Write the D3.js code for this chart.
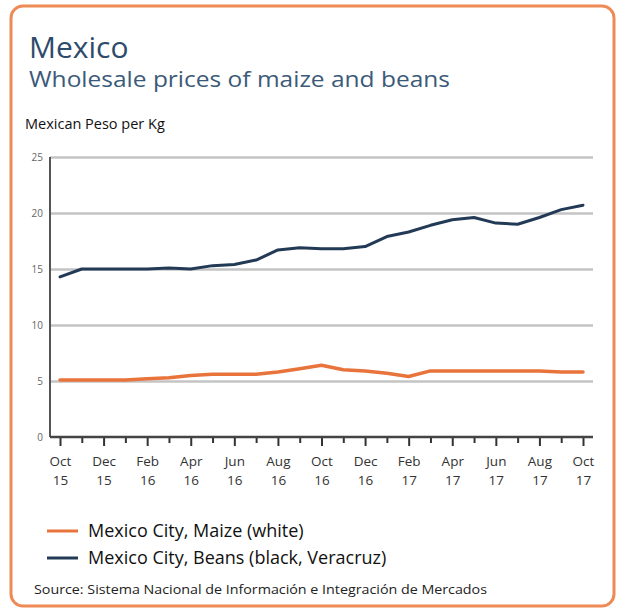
<!DOCTYPE html>
<html>
<head>
<meta charset="utf-8">
<script src="https://cdn.jsdelivr.net/npm/d3@7"></script>
<style>
  body { margin: 0; background: #fff; }
  text { font-family: "Open Sans", "Noto Sans", sans-serif; }
</style>
</head>
<body>
<div class="chart"></div>
<script>
// monthly observations, Oct 2015 - Oct 2017
var months = ["Oct 15","Nov 15","Dec 15","Jan 16","Feb 16","Mar 16","Apr 16","May 16","Jun 16",
  "Jul 16","Aug 16","Sep 16","Oct 16","Nov 16","Dec 16","Jan 17","Feb 17","Mar 17","Apr 17",
  "May 17","Jun 17","Jul 17","Aug 17","Sep 17","Oct 17"];

var maize = [5.1, 5.1, 5.1, 5.1, 5.2, 5.3, 5.5, 5.6, 5.6, 5.6, 5.8, 6.1, 6.4,
  6.0, 5.9, 5.7, 5.4, 5.9, 5.9, 5.9, 5.9, 5.9, 5.9, 5.8, 5.8];

var beans = [14.3, 15.0, 15.0, 15.0, 15.0, 15.1, 15.0, 15.3, 15.4, 15.8, 16.7, 16.9, 16.8,
  16.8, 17.0, 17.9, 18.3, 18.9, 19.4, 19.6, 19.1, 19.0, 19.6, 20.3, 20.7];

var yTicks = [0, 5, 10, 15, 20, 25];

var seriesNames = ["Mexico City, Maize (white)", "Mexico City, Beans (black, Veracruz)"];
var seriesColors = ["#e8743b", "#233a56"];

var svgWidth = 619, svgHeight = 610;

var svg = d3.select(".chart")
  .append("svg")
  .attr("width", svgWidth)
  .attr("height", svgHeight);

// orange frame
svg.append("rect")
  .attr("x", 11).attr("y", 6)
  .attr("width", 603).attr("height", 600)
  .attr("rx", 12)
  .attr("fill", "#fff")
  .attr("stroke", "#ee8a55")
  .attr("stroke-width", 3);

// titles
svg.append("text")
  .attr("x", 29).attr("y", 58)
  .attr("font-size", 30)
  .attr("fill", "#2e4b6c")
  .text("Mexico");

svg.append("text")
  .attr("x", 29).attr("y", 87)
  .attr("font-size", 22)
  .attr("fill", "#3b5a79")
  .attr("textLength", 421)
  .attr("lengthAdjust", "spacingAndGlyphs")
  .text("Wholesale prices of maize and beans");

svg.append("text")
  .attr("x", 25).attr("y", 129)
  .attr("font-size", 14.5)
  .attr("fill", "#111")
  .text("Mexican Peso per Kg");

// plot area
var plotLeft = 50, plotRight = 593, plotTop = 157, plotBottom = 437;

var x = d3.scaleLinear().domain([0, months.length - 1]).range([60, 583]);
var y = d3.scaleLinear().domain([0, 25]).range([plotBottom, plotTop]);

// gridlines
svg.append("g")
  .attr("class", "grid")
  .attr("transform", `translate(${plotLeft},0)`)
  .call(d3.axisLeft(y).tickValues(yTicks.slice(1)).tickSize(-(plotRight - plotLeft)).tickFormat(""))
  .call(g => g.select(".domain").remove())
  .selectAll("line")
  .attr("stroke", "#c4c4c4")
  .attr("stroke-width", 2.5);

// y axis labels
svg.append("g")
  .attr("class", "y-axis")
  .attr("transform", `translate(${plotLeft - 5},0)`)
  .call(d3.axisLeft(y).tickValues(yTicks).tickSize(0).tickPadding(2))
  .call(g => g.select(".domain").remove())
  .selectAll("text")
  .attr("font-size", 10)
  .attr("fill", "#666")
  .style("font-family", "'Open Sans', sans-serif");

// y axis line
svg.append("line")
  .attr("x1", plotLeft).attr("x2", plotLeft)
  .attr("y1", plotTop).attr("y2", plotBottom)
  .attr("stroke", "#555")
  .attr("stroke-width", 2);

// minor ticks (odd months)
svg.append("g")
  .attr("transform", `translate(0,${plotBottom})`)
  .call(d3.axisBottom(x).tickValues(d3.range(1, months.length, 2)).tickSize(6).tickFormat(""))
  .call(g => g.select(".domain").remove())
  .selectAll("line")
  .attr("stroke", "#333")
  .attr("stroke-width", 2);

// major ticks with two-line labels
var xAxis = svg.append("g")
  .attr("class", "x-axis")
  .attr("transform", `translate(0,${plotBottom})`)
  .call(d3.axisBottom(x).tickValues(d3.range(0, months.length, 2)).tickSize(9).tickFormat(""));

xAxis.select(".domain").remove();
xAxis.selectAll("line").attr("stroke", "#333").attr("stroke-width", 2);

xAxis.selectAll(".tick text")
  .attr("font-size", 13.5)
  .attr("fill", "#333")
  .attr("y", 0)
  .attr("dy", null)
  .style("font-family", "'Open Sans', sans-serif")
  .each(function (d) {
    var parts = months[d].split(" ");
    var t = d3.select(this);
    t.append("tspan").attr("x", 0).attr("y", 29).text(parts[0]);
    t.append("tspan").attr("x", 0).attr("y", 48).text(parts[1]);
  });

// x axis line
svg.append("line")
  .attr("x1", plotLeft).attr("x2", plotRight)
  .attr("y1", plotBottom).attr("y2", plotBottom)
  .attr("stroke", "#444")
  .attr("stroke-width", 2.5);

// series lines
var line = d3.line()
  .x((d, i) => x(i))
  .y(d => y(d));

[maize, beans].forEach(function (data, k) {
  svg.append("path")
    .datum(data)
    .attr("fill", "none")
    .attr("stroke", seriesColors[k])
    .attr("stroke-width", k === 0 ? 3.5 : 3)
    .attr("stroke-linejoin", "round")
    .attr("stroke-linecap", "round")
    .attr("d", line);
});

// legend
var legend = svg.append("g").attr("class", "legend");
seriesNames.forEach(function (name, k) {
  var ly = 531 + k * 27;
  legend.append("line")
    .attr("x1", 47).attr("x2", 78)
    .attr("y1", ly).attr("y2", ly)
    .attr("stroke", seriesColors[k])
    .attr("stroke-width", 3);
  legend.append("text")
    .attr("x", 88).attr("y", ly + 6)
    .attr("font-size", 18)
    .attr("fill", "#111")
    .text(name);
});

// source
svg.append("text")
  .attr("x", 34).attr("y", 594)
  .attr("font-size", 13)
  .attr("fill", "#222")
  .attr("textLength", 453)
  .attr("lengthAdjust", "spacingAndGlyphs")
  .text("Source: Sistema Nacional de Información e Integración de Mercados");
</script>
</body>
</html>
